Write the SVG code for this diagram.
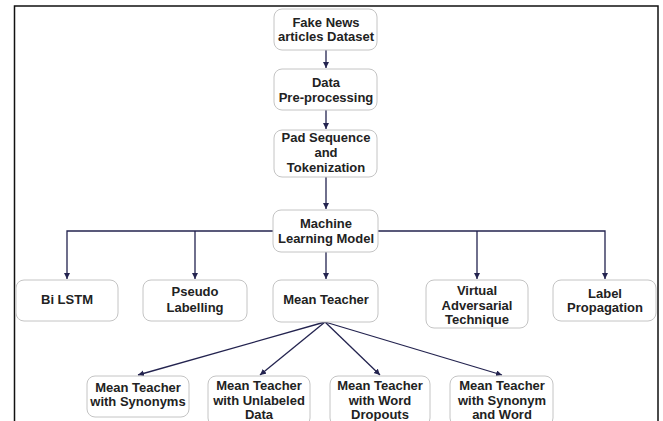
<svg xmlns="http://www.w3.org/2000/svg" width="663" height="421" viewBox="0 0 663 421">
<style>
.box{fill:#fff;stroke:#c4c4c4;stroke-width:1}
.t{font-family:"Liberation Sans",Arial,sans-serif;font-weight:bold;font-size:13px;fill:#222;text-anchor:middle}
.c{fill:none;stroke:#23234f;stroke-width:1.3}
</style>
<defs>
<marker id="ah" markerWidth="8" markerHeight="8" refX="6" refY="3" orient="auto" markerUnits="userSpaceOnUse">
<path d="M0,0 L6,3 L0,6 Z" fill="#23234f"/>
</marker>
</defs>
<rect width="663" height="421" fill="#fff"/>
<path d="M14.5,421 V6 H658 V421" fill="none" stroke="#111" stroke-width="1.5"/>
<g id="connectors">
<line class="c" x1="326" y1="50" x2="326" y2="68" marker-end="url(#ah)"/>
<line class="c" x1="326" y1="110" x2="326" y2="129" marker-end="url(#ah)"/>
<line class="c" x1="326" y1="177" x2="326" y2="209" marker-end="url(#ah)"/>
<polyline class="c" points="273,231 67,231 67,279" marker-end="url(#ah)"/>
<line class="c" x1="195" y1="231" x2="195" y2="279" marker-end="url(#ah)"/>
<polyline class="c" points="378,231 605,231 605,279" marker-end="url(#ah)"/>
<line class="c" x1="477" y1="231" x2="477" y2="279" marker-end="url(#ah)"/>
<line class="c" x1="326" y1="252" x2="326" y2="279" marker-end="url(#ah)"/>
<line class="c" x1="325" y1="322" x2="138" y2="375" marker-end="url(#ah)"/>
<line class="c" x1="325" y1="322" x2="260" y2="375" marker-end="url(#ah)"/>
<line class="c" x1="325" y1="322" x2="380" y2="375" marker-end="url(#ah)"/>
<line class="c" x1="325" y1="322" x2="502" y2="375" marker-end="url(#ah)"/>
</g>
<g id="fake-news">
<rect class="box" x="274" y="9" width="103" height="41" rx="8"/>
<text class="t" x="326" y="27">Fake News</text>
<text class="t" x="326" y="41">articles Dataset</text>
</g>
<g id="data-preprocessing">
<rect class="box" x="274" y="69" width="103" height="41" rx="8"/>
<text class="t" x="326" y="87">Data</text>
<text class="t" x="326" y="102">Pre-processing</text>
</g>
<g id="pad-sequence">
<rect class="box" x="274" y="130" width="103" height="47" rx="8"/>
<text class="t" x="326" y="142">Pad Sequence</text>
<text class="t" x="326" y="157">and</text>
<text class="t" x="326" y="172">Tokenization</text>
</g>
<g id="ml-model">
<rect class="box" x="273" y="210" width="105" height="42" rx="8"/>
<text class="t" x="326" y="228">Machine</text>
<text class="t" x="326" y="243">Learning Model</text>
</g>
<g id="bi-lstm">
<rect class="box" x="16" y="280" width="102" height="41" rx="8"/>
<text class="t" x="67" y="304">Bi LSTM</text>
</g>
<g id="pseudo-labelling">
<rect class="box" x="143" y="280" width="104" height="41" rx="8"/>
<text class="t" x="195" y="296">Pseudo</text>
<text class="t" x="195" y="312">Labelling</text>
</g>
<g id="mean-teacher">
<rect class="box" x="273" y="280" width="105" height="42" rx="8"/>
<text class="t" x="326" y="304">Mean Teacher</text>
</g>
<g id="virtual-adversarial">
<rect class="box" x="426" y="280" width="102" height="48" rx="8"/>
<text class="t" x="477" y="295">Virtual</text>
<text class="t" x="477" y="310">Adversarial</text>
<text class="t" x="477" y="324">Technique</text>
</g>
<g id="label-propagation">
<rect class="box" x="553" y="280" width="103" height="41" rx="8"/>
<text class="t" x="605" y="298">Label</text>
<text class="t" x="605" y="312">Propagation</text>
</g>
<g id="mt-synonyms">
<rect class="box" x="87" y="376" width="102" height="41" rx="8"/>
<text class="t" x="138" y="392">Mean Teacher</text>
<text class="t" x="138" y="406">with Synonyms</text>
</g>
<g id="mt-unlabeled">
<rect class="box" x="208" y="376" width="102" height="50" rx="8"/>
<text class="t" x="259" y="390">Mean Teacher</text>
<text class="t" x="259" y="404.5">with Unlabeled</text>
<text class="t" x="259" y="419">Data</text>
</g>
<g id="mt-word-dropouts">
<rect class="box" x="330" y="376" width="100" height="50" rx="8"/>
<text class="t" x="380" y="390">Mean Teacher</text>
<text class="t" x="380" y="404.5">with Word</text>
<text class="t" x="380" y="419">Dropouts</text>
</g>
<g id="mt-synonym-word">
<rect class="box" x="450" y="376" width="103" height="50" rx="8"/>
<text class="t" x="502" y="390">Mean Teacher</text>
<text class="t" x="502" y="404.5">with Synonym</text>
<text class="t" x="502" y="419">and Word</text>
</g>
</svg>
